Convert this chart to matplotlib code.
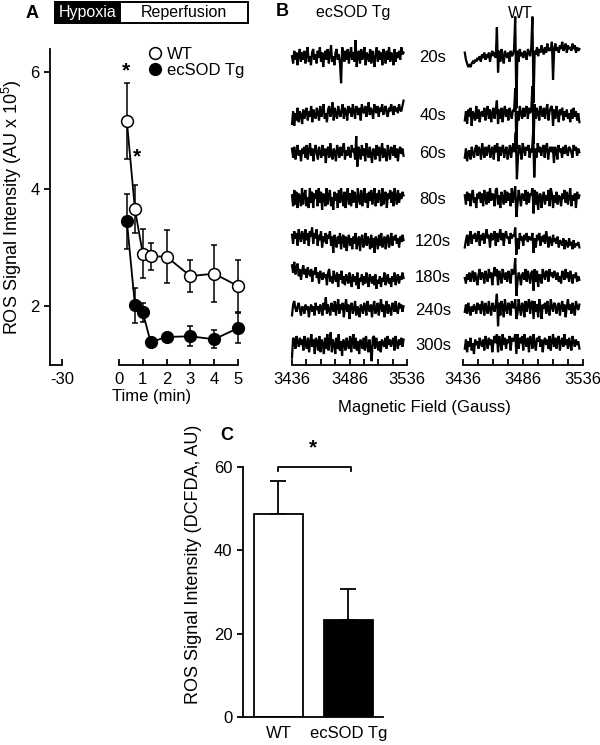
import numpy as np
import matplotlib
matplotlib.use("Agg")
import matplotlib.pyplot as plt
from matplotlib.patches import Rectangle
from matplotlib.lines import Line2D

plt.rcParams['font.family'] = ['Liberation Sans', 'DejaVu Sans']
plt.rcParams['mathtext.default'] = 'regular'

# ---------------- data ----------------
# Panel A: time course (min)
time_min = [0.33, 0.67, 1.0, 1.33, 2, 3, 4, 5]
wt_mean = [5.17, 3.66, 2.90, 2.86, 2.85, 2.52, 2.56, 2.35]
wt_err = [0.65, 0.41, 0.42, 0.23, 0.45, 0.28, 0.49, 0.45]
tg_mean = [3.46, 2.02, 1.90, 1.39, 1.48, 1.49, 1.44, 1.63]
tg_err = [0.47, 0.30, 0.16, 0.07, 0.05, 0.17, 0.15, 0.26]
a_xticks = [0, 1, 2, 3, 4, 5]
a_yticks = [2, 4, 6]

# Panel B: EPR traces (signal amplitude, arbitrary units)
trace_labels = ['20s', '40s', '60s', '80s', '120s', '180s', '240s', '300s']
field_range = (3436, 3536)
field_ticks = [3436, 3486, 3536]

tg_20 = [1,-3,4,-1,3,-4,2,5,-2,3,-1,4,-3,2,6,-2,1,-4,3,5,-1,2,-3,4,0,6,-2,3,-5,2,4,-1,5,-3,2,7,-2,1,-4,3,5,-1,2,-3,-14,6,3,-2,4,-1,5,-3,2,6,-1,3,-2,10,-5,2,4,-3,5,-1,2,6,-4,3,1,-2,5,-3,4,0,-5,3,6,-2,4,-1,3,-4,5,2,-3,4,-1,6,-2,3,1,-4,5,-2,3,0,4,-1,6,2,3]
tg_40 = [-5,2,-6,1,-3,4,-4,2,0,-5,3,-2,1,4,-3,2,-1,5,-4,3,0,-2,4,1,-3,5,-1,2,6,-2,1,-4,3,5,-1,2,7,-3,4,0,-2,5,1,-1,3,6,-2,4,2,-3,5,1,4,-1,6,2,-2,5,3,0,4,-3,6,2,1,5,-1,3,7,0,4,2,-2,6,3,1,5,-1,4,2,6,0,3,5,1,-1,4,2,6,3,0,5,2,4,1,6,3,2,5,8]
tg_60 = [3,-2,4,-3,1,5,-1,2,-4,3,0,4,-2,5,-3,2,6,-1,3,-4,2,5,0,-3,4,1,-2,5,-1,3,-5,2,4,-2,6,0,-3,3,1,-4,5,2,-2,4,-1,3,6,-3,2,-1,4,0,-2,5,1,3,-3,10,-7,4,2,-3,5,-1,3,-4,6,1,-2,4,0,-5,3,2,-3,5,-1,4,-4,2,6,-2,3,0,-4,5,1,-3,4,2,-1,5,-2,3,-4,2,4,0,3,-1]
tg_80 = [2,-4,5,-3,4,-5,3,1,-4,6,-3,2,5,-4,1,-5,6,-2,4,-5,3,0,5,-4,6,-2,4,-6,3,1,-4,6,-3,2,5,-4,1,-6,4,-1,3,-5,5,-2,6,0,-4,4,-5,2,6,-3,3,-4,5,-2,4,1,-5,6,0,-3,5,-4,2,6,-2,3,-5,4,-1,5,-3,2,6,-4,3,-2,5,1,-4,6,-3,2,4,-5,3,0,5,-2,4,-4,6,1,-3,5,-2,3,0,4,2]
tg_120 = [4,-1,6,2,5,-2,7,3,0,6,4,-1,7,1,5,-2,6,3,8,-1,5,2,7,-2,4,1,6,-3,3,0,5,-1,4,2,6,-2,3,-6,4,0,-3,3,-1,5,-4,2,4,-3,3,-5,1,4,-2,2,-4,3,-1,5,-4,1,3,-5,2,4,-3,0,5,-2,3,1,-4,4,-3,2,-6,3,1,-4,4,-2,5,-3,1,3,-4,2,4,-3,0,5,-2,3,1,4,-1,2,-3,3,0,4,1]
tg_180 = [7,3,9,2,6,8,1,5,-1,4,7,2,5,0,6,3,1,5,-2,4,2,6,0,3,-3,4,1,-1,3,0,2,-4,3,5,-2,1,-3,4,0,-2,3,-5,2,-1,4,-3,1,-4,2,0,-3,3,-1,-5,2,-2,1,-4,3,-6,0,-2,2,-4,1,-3,3,-1,-5,2,0,-3,1,-4,2,-6,-1,-3,1,-5,0,-2,3,-4,-1,2,-3,0,-5,1,-2,3,-4,0,2,-3,1,-1,3,0]
tg_240 = [-3,3,5,1,-1,2,4,0,-3,2,1,-2,3,0,2,-4,1,3,-1,2,-3,4,0,2,-2,3,1,-3,4,0,7,-2,3,0,-3,4,2,-1,5,-3,2,6,-2,3,0,4,-4,2,6,-1,3,-5,2,4,-2,1,5,-3,2,0,-4,3,1,-2,4,2,-3,5,1,-1,3,-4,2,5,-2,0,4,-3,2,6,-1,3,-4,1,5,-2,3,0,-3,4,2,-1,5,0,-2,4,1,3,-1,2]
tg_300 = [-7,4,3,-2,5,2,-1,4,0,3,-3,5,1,-2,4,-4,2,6,-1,3,-5,4,2,-3,5,-4,3,1,-5,4,-2,6,-3,2,7,-4,3,1,-5,4,-2,6,-3,2,-6,3,1,-3,4,0,-2,5,-4,3,6,-2,4,-3,2,-5,3,1,-2,4,-3,5,0,-4,3,-2,-9,4,5,-2,4,0,-3,2,-4,3,1,-1,4,-2,5,0,3,-1,2,4,-3,5,1,-2,3,0,4,-1,3]

wt_20 = [3,-1,-3,-5,-4,-5,-3,-2,-3,-1,-2,0,-1,1,-2,2,0,3,-1,2,0,3,-2,2,4,1,3,0,17,-8,4,-2,5,1,-3,4,2,0,3,-2,4,1,2,5,23,-28,4,-2,5,1,3,0,4,2,-1,5,3,1,6,23,-25,4,2,6,1,5,3,7,4,2,6,3,8,4,5,4,9,-12,5,8,4,6,3,7,5,9,4,6,8,3,7,5,6,4,8,5,7,3,6,4,5]
wt_40 = [-3,2,-5,3,-1,4,-6,2,0,-3,5,-2,3,-4,1,2,-1,4,-3,2,5,-2,3,-4,1,4,-2,3,8,-5,3,-2,4,-4,2,5,-1,3,-3,4,1,-2,3,2,15,-19,2,-3,5,1,-2,4,-1,3,5,-2,4,1,3,16,-16,6,-2,4,1,-3,5,2,-1,4,-2,3,6,-3,2,4,5,-6,3,-2,5,1,-4,3,0,4,-3,2,-1,3,-2,1,-4,3,-2,4,-1,2,-3,1,-4]
wt_60 = [-2,3,-4,1,2,-3,4,0,-2,3,5,-1,4,2,-3,6,1,-2,4,-1,3,5,-2,2,4,-3,5,1,6,-4,4,-1,3,5,-2,2,4,-3,1,5,-2,3,6,1,12,-14,-1,5,2,-3,6,3,-1,4,2,5,-2,3,1,12,-13,3,-2,6,1,4,-1,3,5,-2,4,6,-3,2,4,1,4,-5,4,2,-3,5,1,3,-2,4,0,5,2,-1,4,3,1,-2,5,2,4,-1,3,1]
wt_80 = [2,-3,4,-1,3,-4,2,5,-2,1,-5,3,0,4,-2,3,-4,5,1,-3,4,-2,6,-1,3,2,-4,5,6,-3,2,-5,4,1,-3,5,-2,4,-1,3,-4,6,-2,3,7,-10,-3,5,1,-4,3,2,-1,5,-3,4,-2,3,2,6,-8,5,-3,4,-6,2,3,-5,1,4,-3,2,-1,5,-4,6,3,-5,2,-2,4,-3,2,1,-4,3,0,5,-2,4,-3,1,6,-4,2,-1,3,-5,4,0,2]
wt_120 = [-3,1,4,-2,3,6,-1,4,2,5,0,3,6,-2,4,1,5,-1,3,7,2,4,-3,5,1,3,6,-2,5,0,4,7,1,5,-2,4,6,2,3,-1,5,2,4,3,8,-7,2,-4,5,1,3,-2,4,1,5,0,3,2,1,5,-6,2,-3,4,1,5,-2,3,0,4,-1,6,2,-3,3,1,-2,4,0,2,-1,3,-3,1,0,-2,2,-4,1,-1,-3,2,-2,0,-4,1,-3,-1,-2,0,-3]
wt_180 = [0,-3,2,-1,3,-2,1,4,-2,3,0,-4,2,5,-1,3,2,-3,4,1,-2,5,0,3,-4,2,6,1,5,-4,4,1,-3,5,2,-1,3,-2,4,1,-3,5,2,3,11,-10,-2,3,1,-4,2,3,-1,5,-2,4,1,-3,3,4,-7,5,-2,4,-5,2,1,-3,5,2,-1,4,3,-2,5,1,3,0,4,2,-1,3,-2,1,-3,4,2,-1,5,0,3,-2,4,1,-3,2,0,3,-2,1,-1]
wt_240 = [-1,3,-2,4,0,-3,2,-1,3,1,-2,4,0,3,-2,5,2,-3,4,1,-2,5,0,-3,4,2,-1,3,9,-9,4,-3,5,2,-4,6,1,-2,4,3,-3,5,2,1,6,-5,-2,6,1,-3,4,2,-4,5,-1,3,6,-2,4,5,-5,5,-1,3,-4,6,2,-5,3,1,4,-2,5,0,-3,6,2,-1,4,3,-2,1,4,-3,2,5,-1,3,-4,2,6,0,3,-2,4,1,-3,5,2,0,3]
wt_300 = [-2,3,-4,2,-1,4,-3,1,-5,3,0,2,-2,4,1,-1,3,-3,5,2,-2,4,0,3,-4,2,5,1,6,-4,5,2,-3,6,0,4,-2,3,1,5,-3,4,2,3,6,-5,6,-2,4,1,5,-3,6,2,-1,4,-4,5,3,-2,6,1,-3,4,2,5,-1,3,-4,2,4,0,3,-2,5,-3,2,6,-1,4,-2,3,5,-3,2,4,-1,6,0,3,-2,4,1,-3,5,2,-1,3,0,2,-2]

tg_traces = [tg_20, tg_40, tg_60, tg_80, tg_120, tg_180, tg_240, tg_300]
wt_traces = [wt_20, wt_40, wt_60, wt_80, wt_120, wt_180, wt_240, wt_300]

# Panel C: DCFDA
c_groups = ['WT', 'ecSOD Tg']
c_mean = [48.6, 23.3]
c_err = [8.0, 7.3]
c_yticks = [0, 20, 40, 60]

# ---------------- layout helpers ----------------
W, H = 600, 745
fig = plt.figure(figsize=(W / 100, H / 100), dpi=100)

def fx(px):
    return px / W

def fy(py):
    return 1 - py / H

LW = 1.3
TICK_FS = 12
LAB_FS = 12
YLAB_FS = 13
TRACE_GAIN = 1.8

# ---------------- Panel A ----------------
a_top, a_bot = 49, 365
ylimA = (1.0, 6.4)
axA0 = fig.add_axes([fx(50), fy(a_bot), (62 - 50) / W, (a_bot - a_top) / H])
axA0.set_xlim(-31, -30)
axA0.set_ylim(*ylimA)
for s in ['top', 'right']:
    axA0.spines[s].set_visible(False)
for s in ['left', 'bottom']:
    axA0.spines[s].set_linewidth(LW)
axA0.set_xticks([-30])
axA0.set_xticklabels(['-30'], fontsize=TICK_FS)
axA0.set_yticks(a_yticks)
axA0.set_yticklabels([str(v) for v in a_yticks], fontsize=TICK_FS)
axA0.tick_params(axis='x', direction='in', length=4, width=LW, pad=5)
axA0.tick_params(axis='y', direction='out', length=4, width=LW)
axA0.patch.set_alpha(0)

axA = fig.add_axes([fx(119), fy(a_bot), (238 - 119) / W, (a_bot - a_top) / H])
axA.set_xlim(0, 5)
axA.set_ylim(*ylimA)
for s in ['top', 'right', 'left']:
    axA.spines[s].set_visible(False)
axA.spines['bottom'].set_linewidth(LW)
axA.set_yticks([])
axA.set_xticks(a_xticks)
axA.set_xticklabels([str(v) for v in a_xticks], fontsize=TICK_FS)
axA.tick_params(axis='x', direction='in', length=4, width=LW, pad=5)
axA.patch.set_alpha(0)

axA.errorbar(time_min, tg_mean, yerr=tg_err, fmt='-o', color='k', mfc='k', mec='k',
             ms=8.5, capsize=2.5, elinewidth=1.1, capthick=1.1, lw=LW, clip_on=False, zorder=3)
axA.errorbar(time_min, wt_mean, yerr=wt_err, fmt='-o', color='k', mfc='white', mec='k',
             ms=8.5, mew=1.1, capsize=2.5, elinewidth=1.1, capthick=1.1, lw=LW, clip_on=False, zorder=4)
axA.text(0.29, 6.02, '*', fontsize=15, ha='center', va='center', fontweight='bold')
axA.text(0.76, 4.55, '*', fontsize=15, ha='center', va='center', fontweight='bold')

handles = [Line2D([], [], ls='none', marker='o', ms=8.5, mfc='white', mec='k', mew=1.1),
           Line2D([], [], ls='none', marker='o', ms=8.5, mfc='k', mec='k')]
fig.legend(handles, ['WT', 'ecSOD Tg'], loc='upper left', bbox_to_anchor=(fx(148), fy(47)),
           frameon=False, fontsize=12, handlelength=0.8, handletextpad=0.35,
           labelspacing=0.05, borderpad=0, borderaxespad=0)

fig.text(fx(12), fy(207), 'ROS Signal Intensity (AU x 10$^5$)', rotation=90,
         ha='center', va='center', fontsize=YLAB_FS)
fig.text(fx(152), fy(397), 'Time (min)', ha='center', va='center', fontsize=LAB_FS)

# header bar
fig.patches.append(Rectangle((fx(55), fy(23)), fx(248) - fx(55), 21 / H, facecolor='white',
                             edgecolor='k', lw=1.4, transform=fig.transFigure, figure=fig))
fig.patches.append(Rectangle((fx(55), fy(23)), fx(120) - fx(55), 21 / H, facecolor='k',
                             edgecolor='k', lw=1.4, transform=fig.transFigure, figure=fig))
fig.text(fx(87.5), fy(12.5), 'Hypoxia', color='white', ha='center', va='center', fontsize=11.5)
fig.text(fx(184), fy(12.5), 'Reperfusion', color='k', ha='center', va='center', fontsize=11.5)
fig.text(fx(32), fy(13), 'A', ha='center', va='center', fontsize=13, fontweight='bold')

# ---------------- Panel B ----------------
b_top, b_bot = 30, 365
baselines = [58, 115, 154, 199, 242, 278, 310, 345]

def make_trace_axes(left_px, right_px):
    ax = fig.add_axes([fx(left_px), fy(b_bot), (right_px - left_px) / W, (b_bot - b_top) / H])
    ax.set_xlim(*field_range)
    ax.set_ylim(b_bot, b_top)
    for s in ['top', 'right', 'left']:
        ax.spines[s].set_visible(False)
    ax.spines['bottom'].set_linewidth(LW)
    ax.set_yticks([])
    ax.set_xticks(field_ticks)
    ax.set_xticklabels([str(v) for v in field_ticks], fontsize=TICK_FS)
    ax.set_xticks(np.arange(field_range[0], field_range[1] + 0.1, 12.5), minor=True)
    ax.tick_params(axis='x', which='both', direction='in', length=4, width=LW, pad=5)
    ax.patch.set_alpha(0)
    return ax

axBL = make_trace_axes(292, 407)
axBR = make_trace_axes(463, 583)

for ax, traces, x0 in [(axBL, tg_traces, 3436), (axBR, wt_traces, 3437.5)]:
    for base, tr in zip(baselines, traces):
        tr = np.asarray(tr, dtype=float)
        field = np.linspace(x0, field_range[1] - 3, len(tr))
        ax.plot(field, base - TRACE_GAIN * tr, color='k', lw=1.6, clip_on=False,
                solid_joinstyle='miter')

for base, lab in zip(baselines, trace_labels):
    fig.text(fx(433), fy(base), lab, ha='center', va='center', fontsize=12)

fig.text(fx(282), fy(12), 'B', ha='center', va='center', fontsize=13, fontweight='bold')
fig.text(fx(353), fy(13), 'ecSOD Tg', ha='center', va='center', fontsize=11.5)
fig.text(fx(520), fy(13), 'WT', ha='center', va='center', fontsize=11.5)
fig.text(fx(424), fy(407), 'Magnetic Field (Gauss)', ha='center', va='center', fontsize=LAB_FS)

# ---------------- Panel C ----------------
c_top, c_bot = 466.7, 717.3
axC = fig.add_axes([fx(243), fy(c_bot), (383 - 243) / W, (c_bot - c_top) / H])
xpos = np.arange(len(c_groups))
axC.bar(xpos, c_mean, width=0.71, color=['white', 'black'], edgecolor='k', lw=1.3, zorder=2)
axC.errorbar(xpos, c_mean, yerr=[[0, 0], c_err], fmt='none', ecolor='k', elinewidth=1.3,
             capsize=5.5, capthick=1.3, zorder=1)
axC.set_xlim(-0.506, 1.493)
axC.set_ylim(0, 60)
for s in ['top', 'right']:
    axC.spines[s].set_visible(False)
for s in ['left', 'bottom']:
    axC.spines[s].set_linewidth(LW)
axC.set_yticks(c_yticks)
axC.set_yticklabels([str(v) for v in c_yticks], fontsize=TICK_FS)
axC.set_xticks(xpos)
axC.set_xticklabels(c_groups, fontsize=TICK_FS)
axC.tick_params(axis='x', length=0, pad=6)
axC.tick_params(axis='y', direction='out', length=4, width=LW)
axC.plot([0, 0, 1.03, 1.03], [59.0, 60, 60, 59.0], color='k', lw=1.3, clip_on=False)
axC.text(0.5, 64.5, '*', fontsize=15, ha='center', va='center', fontweight='bold')
fig.text(fx(193), fy(564), 'ROS Signal Intensity (DCFDA, AU)', rotation=90,
         ha='center', va='center', fontsize=YLAB_FS)
fig.text(fx(227), fy(435), 'C', ha='center', va='center', fontsize=13, fontweight='bold')

fig.savefig('out.png', dpi=100)
